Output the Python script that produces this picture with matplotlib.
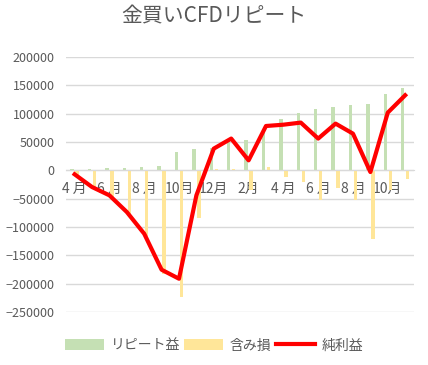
import matplotlib
matplotlib.use("Agg")
import matplotlib.pyplot as plt
import numpy as np

plt.rcParams['font.family'] = ['Noto Sans CJK JP', 'DejaVu Sans']

# Data
months = ['4 月', '5 月', '6 月', '7 月', '8 月', '9 月', '10月', '11月', '12月', '1月',
          '2月', '3月', '4 月', '5 月', '6 月', '7 月', '8 月', '9 月', '10月', '11月']
repeat_profit = [1800, 1800, 4000, 4000, 5800, 7000, 31800, 38300, 39000, 51000,
                 53000, 72000, 90000, 102000, 107700, 111800, 114700, 116500, 135300, 144700]
unrealized = [-10000, -32000, -47000, -77000, -116000, -182000, -223000, -83500, 1500, 2000,
              -35000, 5900, -11800, -20600, -51800, -30600, -51800, -120600, -34000, -15300]
net_profit = [-7000, -29400, -44100, -73500, -111800, -175300, -191200, -44100, 38300, 56000,
              17600, 78200, 80500, 84200, 56000, 82400, 64700, -3000, 101800, 132400]

text_color = '#595959'
grid_color = '#d9d9d9'

fig = plt.figure(figsize=(4.28, 3.65), dpi=100)
ax = fig.add_axes([0.154, 0.145, 0.813, 0.699])

x = np.arange(len(months))
w = 0.2
b1 = ax.bar(x - 0.145, repeat_profit, width=w, color='#c5e0b4', label='リピート益', zorder=2)
b2 = ax.bar(x + 0.145, unrealized, width=w, color='#ffe699', label='含み損', zorder=2)
l1, = ax.plot(x, net_profit, color='#ff0000', linewidth=3, label='純利益', zorder=3)

ax.set_xlim(-0.5, len(months) - 0.5)
ax.set_ylim(-250000, 200000)
ax.set_yticks(np.arange(-250000, 200001, 50000))
ax.grid(axis='y', color=grid_color, linewidth=1, zorder=0)

for s in ['top', 'right', 'left']:
    ax.spines[s].set_visible(False)
ax.spines['bottom'].set_position(('data', 0))
ax.spines['bottom'].set_color(grid_color)

ax.set_xticks(x[::2])
ax.set_xticklabels(months[::2])
ax.tick_params(axis='x', length=0, pad=8, labelsize=10, colors=text_color)
ax.tick_params(axis='y', length=0, pad=8, labelsize=9, colors=text_color)

fig.suptitle('金買いCFDリピート', x=0.5, y=0.985, fontsize=15, color=text_color)

fig.legend([b1, b2, l1], ['リピート益', '含み損', '純利益'],
           loc='lower center', bbox_to_anchor=(0.5, 0.0), ncol=3, frameon=False,
           fontsize=10, handlelength=2.8, handleheight=0.9, handletextpad=0.5,
           columnspacing=0.3, labelcolor=text_color)

fig.savefig('out.png', dpi=100)
